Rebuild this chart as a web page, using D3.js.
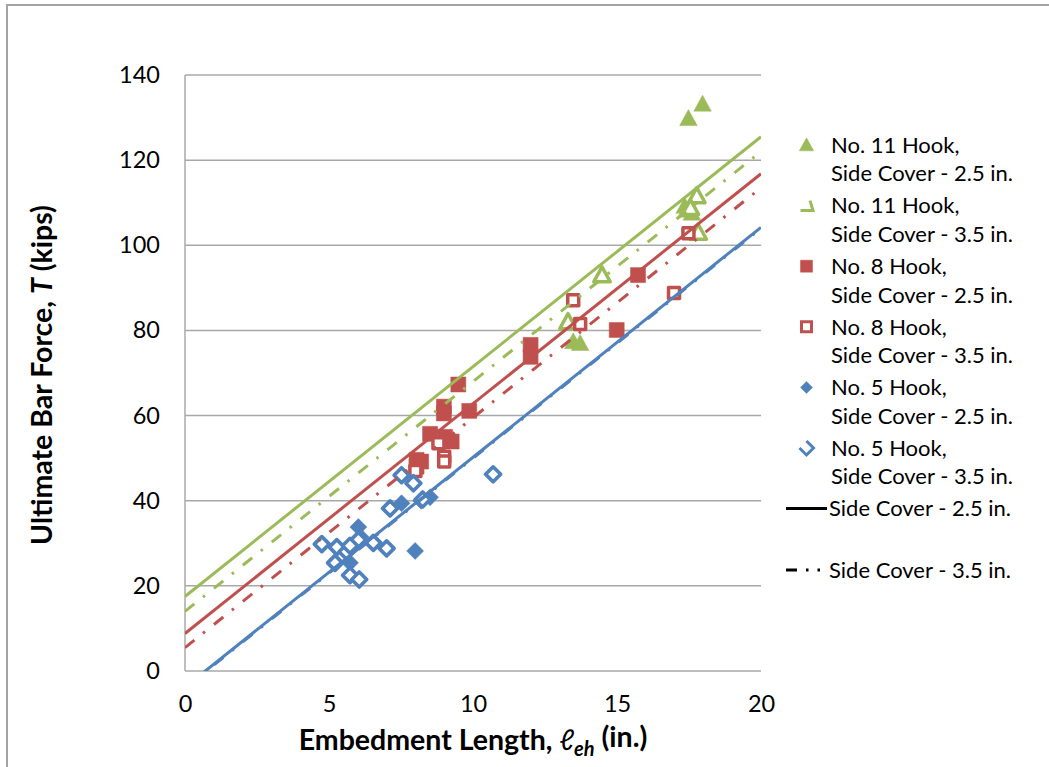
<!DOCTYPE html>
<html>
<head>
<meta charset="utf-8">
<script src="https://cdn.jsdelivr.net/npm/d3@7"></script>
<style>
  html, body { margin: 0; padding: 0; background: #fff; }
  svg { display: block; font-family: Lato, "Open Sans", sans-serif; }
</style>
</head>
<body>
<svg id="chart" width="1049" height="767"></svg>
<script>
// Measured hook specimens: [embedment length (in.), ultimate bar force (kips)]
const no11Cover25 = [[17.97,133.2],[17.48,129.8],[17.42,108.3],[17.35,109.2],[17.6,107.6],[13.48,77.4],[13.72,77.0]];
const no11Cover35 = [[14.48,93.0],[13.3,82.0],[17.77,111.6],[17.55,108.8],[17.82,103.0]];
const no8Cover25  = [[9.49,67.3],[8.99,62.1],[8.99,60.5],[9.87,61.1],[8.51,55.7],[9.03,55.0],[9.26,53.9],
                     [8.04,49.6],[8.04,48.0],[8.2,49.2],[12.0,76.6],[12.0,73.8],[14.99,80.1],[15.73,93.0]];
const no8Cover35  = [[13.48,87.1],[13.72,81.5],[17.48,102.8],[16.98,88.8],[9.0,50.3],[9.0,49.2],[8.8,53.5],[8.0,47.0]];
const no5Cover25  = [[6.02,33.8],[7.99,28.2],[7.52,39.4],[8.51,40.8],[8.2,40.0],[10.67,46.2],[5.73,25.4],[5.85,29.8],[6.1,31.5]];
const no5Cover35  = [[4.75,29.8],[5.27,29.1],[5.61,28.0],[6.02,30.8],[6.54,30.1],[7.0,28.8],[5.21,25.4],[5.73,22.5],
                     [6.05,21.5],[7.12,38.2],[7.52,46.0],[7.93,44.1],[10.7,46.2],[8.25,40.3],[5.73,29.4]];

// Fitted trend lines T = slope * leh + intercept
const trendSlope = 5.4;
const trendIntercepts = {
  no11Cover25: 17.5, no11Cover35: 14.0,
  no8Cover25: 8.8,   no8Cover35: 5.5,
  no5Cover25: -3.8,  no5Cover35: -4.0
};

const xTicks = [0, 5, 10, 15, 20];
const yTicks = [0, 20, 40, 60, 80, 100, 120, 140];

const legendLabels = [
  ["No. 11 Hook,", "Side Cover - 2.5 in."],
  ["No. 11 Hook,", "Side Cover - 3.5 in."],
  ["No. 8 Hook,",  "Side Cover - 2.5 in."],
  ["No. 8 Hook,",  "Side Cover - 3.5 in."],
  ["No. 5 Hook,",  "Side Cover - 2.5 in."],
  ["No. 5 Hook,",  "Side Cover - 3.5 in."]
];
const lineLegendLabels = ["Side Cover - 2.5 in.", "Side Cover - 3.5 in."];

const GREEN = "#9BBB59", RED = "#C0504D", BLUE = "#4F81BD";
const DASHDOT = "12,11,2.5,11.5";

const svg = d3.select("#chart");
const x = d3.scaleLinear().domain([0, 20]).range([185, 761]);
const y = d3.scaleLinear().domain([0, 140]).range([671, 75]);

// outer chart frame
svg.append("path")
  .attr("d", "M7,767 L7,5 L1049,5")
  .attr("fill", "none").attr("stroke", "#a3a3a3").attr("stroke-width", 2);

// gridlines
svg.append("g").selectAll("line").data(yTicks).join("line")
  .attr("x1", x(0)).attr("x2", x(20))
  .attr("y1", d => y(d)).attr("y2", d => y(d))
  .attr("stroke", "#a8a8a8").attr("stroke-width", 1.5);

// y axis line
svg.append("line")
  .attr("x1", x(0)).attr("x2", x(0)).attr("y1", y(0)).attr("y2", y(140))
  .attr("stroke", "#a8a8a8").attr("stroke-width", 1.5);

// axes tick labels
const yAxis = d3.axisLeft(y).tickValues(yTicks).tickSize(0).tickPadding(25);
const gy = svg.append("g").attr("transform", `translate(${x(0)},0)`).call(yAxis);
gy.select(".domain").remove();
gy.selectAll("text").attr("font-size", 23.5).attr("fill", "#000").attr("font-family", "Lato");

const xAxis = d3.axisBottom(x).tickValues(xTicks).tickSize(0).tickPadding(24);
const gx = svg.append("g").attr("transform", `translate(0,${y(0)})`).call(xAxis);
gx.select(".domain").remove();
gx.selectAll("text").attr("font-size", 23.5).attr("fill", "#000").attr("font-family", "Lato");

// marker shapes
function triPath(s) { return `M0,${-s*0.55} L${s*0.55},${s*0.45} L${-s*0.55},${s*0.45} Z`; }
function sqPath(s) { const h = s/2; return `M${-h},${-h} H${h} V${h} H${-h} Z`; }
function diaPath(s) { const h = s/2; return `M0,${-h} L${h},0 L0,${h} L${-h},0 Z`; }

const series = [
  { data: no11Cover25, color: GREEN, shape: triPath, size: 16, open: false, sw: 0.5 },
  { data: no11Cover35, color: GREEN, shape: triPath, size: 15, open: true,  sw: 3.5 },
  { data: no8Cover25,  color: RED,   shape: sqPath,  size: 15, open: false, sw: 0.5 },
  { data: no8Cover35,  color: RED,   shape: sqPath,  size: 11, open: true,  sw: 3.5 },
  { data: no5Cover25,  color: BLUE,  shape: diaPath, size: 17, open: false, sw: 0.5 },
  { data: no5Cover35,  color: BLUE,  shape: diaPath, size: 15, open: true,  sw: 3.6 }
];

const pts = svg.append("g");
series.forEach(s => {
  pts.append("g").selectAll("path").data(s.data).join("path")
    .attr("transform", d => `translate(${x(d[0])},${y(d[1])})`)
    .attr("d", s.shape(s.size))
    .attr("fill", s.open ? "#fff" : s.color)
    .attr("stroke", s.color)
    .attr("stroke-linejoin", "round")
    .attr("stroke-width", s.sw);
});

// trend lines clipped to the plot area
svg.append("clipPath").attr("id", "plotClip").append("rect")
  .attr("x", x(0)).attr("y", y(140)).attr("width", x(20) - x(0)).attr("height", y(0) - y(140));

const trendDefs = [
  { key: "no5Cover35",  color: BLUE,  dash: DASHDOT },
  { key: "no5Cover25",  color: BLUE,  dash: null },
  { key: "no8Cover35",  color: RED,   dash: DASHDOT },
  { key: "no8Cover25",  color: RED,   dash: null },
  { key: "no11Cover35", color: GREEN, dash: DASHDOT },
  { key: "no11Cover25", color: GREEN, dash: null }
];
const lineGen = d3.line().x(d => x(d[0])).y(d => y(d[1]));
const lines = svg.append("g").attr("clip-path", "url(#plotClip)");
trendDefs.forEach(t => {
  const b = trendIntercepts[t.key];
  const ends = x.domain().map(v => [v, trendSlope * v + b]);
  lines.append("path")
    .attr("d", lineGen(ends))
    .attr("fill", "none")
    .attr("stroke", t.color)
    .attr("stroke-width", 3)
    .attr("stroke-dasharray", t.dash);
});

// legend
const legend = svg.append("g").attr("font-size", 22).attr("font-family", "Lato").attr("fill", "#000");
const legendPartial = [
  null,
  "M3.5,-5 L6.5,5 L-6,5",          // open triangle glyph
  null,
  null,
  null,
  "M0,-7 L7,0 L0,7 L-7,0"           // open diamond glyph
];
legendLabels.forEach((lab, i) => {
  const cy = 145 + i * 60.6;
  const s = series[i];
  const g = legend.append("g");
  g.append("path")
    .attr("transform", `translate(806.5,${cy})`)
    .attr("d", legendPartial[i] || s.shape(s.open ? 10 : (s.shape === triPath ? 13 : 12)))
    .attr("fill", legendPartial[i] ? "none" : (s.open ? "#fff" : s.color))
    .attr("stroke", s.color)
    .attr("stroke-width", s.open ? 3 : 0.5);
  g.append("text").attr("x", 831).attr("y", cy).attr("dy", "0.35em").text(lab[0]);
  g.append("text").attr("x", 831).attr("y", cy + 28.6).attr("dy", "0.35em").text(lab[1]);
});
lineLegendLabels.forEach((lab, i) => {
  const cy = 508.5 + i * 61.5;
  legend.append("line")
    .attr("x1", 786).attr("x2", 827).attr("y1", cy).attr("y2", cy)
    .attr("stroke", "#000").attr("stroke-width", 2.8)
    .attr("stroke-dasharray", i === 1 ? "11,9,2.5,9,2.5" : null);
  legend.append("text").attr("x", 829).attr("y", cy).attr("dy", "0.35em").text(lab);
});

// axis titles
const yTitle = svg.append("text")
  .attr("transform", "translate(42,375) rotate(-90)")
  .attr("text-anchor", "middle").attr("dy", "0.35em")
  .attr("font-size", 28.5).attr("font-weight", "bold").attr("font-family", "Lato");
yTitle.append("tspan").text("Ultimate Bar Force, ");
yTitle.append("tspan").attr("font-style", "italic").text("T");
yTitle.append("tspan").text(" (kips)");

const xTitle = svg.append("text")
  .attr("x", 473).attr("y", 740)
  .attr("text-anchor", "middle").attr("dy", "0.35em")
  .attr("font-size", 28.5).attr("font-weight", "bold").attr("font-family", "Lato");
xTitle.append("tspan").text("Embedment Length, ");
xTitle.append("tspan").attr("font-style", "italic").attr("font-weight", "normal").text("\u2113");
xTitle.append("tspan").attr("font-style", "italic").attr("font-size", 20).attr("dy", "0.3em").text("eh");
xTitle.append("tspan").attr("dy", "-0.3em").attr("dx", 7).text("(in.)");
</script>
</body>
</html>
